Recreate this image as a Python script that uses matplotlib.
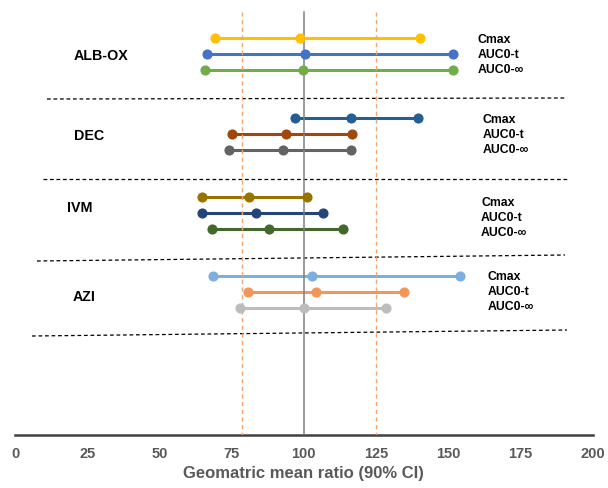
import matplotlib.pyplot as plt

plt.rcParams['font.family'] = ['Liberation Sans', 'DejaVu Sans']

# geometric mean ratio, 90% CI (lower, point, upper) per drug
drugs = ['ALB-OX', 'DEC', 'IVM', 'AZI']
params = ['Cmax', 'AUC0-t', 'AUC0-∞']
lower = [[69.3, 66.4, 65.8],
         [97.0, 75.2, 74.2],
         [64.6, 64.9, 68.1],
         [68.7, 80.8, 77.9]]
point = [[98.7, 100.4, 99.8],
         [116.2, 93.8, 92.9],
         [81.0, 83.3, 87.9],
         [102.9, 104.1, 100.2]]
upper = [[140.2, 151.8, 151.8],
         [139.6, 116.8, 116.3],
         [101.2, 106.8, 113.5],
         [154.1, 134.5, 128.5]]
colors = [['#FFC000', '#4472C4', '#70AD47'],
          ['#255E91', '#9E480E', '#636363'],
          ['#997300', '#264478', '#43682B'],
          ['#7CAFDD', '#F1975A', '#BDBDBD']]
ref_line = 100
limits = [78.5, 125]
xticks = [0, 25, 50, 75, 100, 125, 150, 175, 200]

# layout (y in pixel rows from the top of the figure)
group_top = [39.3, 119.3, 198.3, 277.3]
row_off = [0, 15.8, 32]
name_pos = [(74, 56), (74, 136), (67, 208), (73, 297)]
par_pos = [(478, 40), (483, 120), (481, 203), (488, 277)]
seps = [(47, 565, 100, 99), (43, 568, 180, 180), (37, 565, 262, 256), (32, 567, 337, 331)]

W, H = 608, 489
fig = plt.figure(figsize=(W / 100, H / 100), dpi=100)
ax = fig.add_axes([15 / W, (H - 435.7) / H, 577.7 / W, 435.7 / H])
ax.set_xlim(0, 200)
ax.set_ylim(435.7, 0)

px = 200 / 577.7  # data units per pixel in x

ax.plot([ref_line, ref_line], [13, 435.7], color='#808080', lw=1.1, zorder=3)
for l in limits:
    ax.plot([l, l], [13, 435.7], color='#F4A46E', lw=1.0, ls=(0, (3, 2.5)), zorder=3)

for g in range(len(drugs)):
    for r in range(3):
        y = group_top[g] + row_off[r]
        xs = [lower[g][r], point[g][r], upper[g][r]]
        ax.plot(xs, [y] * 3, color=colors[g][r], lw=2.2, zorder=2, solid_capstyle='butt')
        ax.plot(xs, [y] * 3, ls='none', marker='o', ms=6.3, color=colors[g][r], zorder=4)
    nx, ny = name_pos[g]
    ax.text((nx - 15) * px, ny, drugs[g], fontsize=10.3, fontweight='bold',
            ha='left', va='center', color='#000000')
    lx, ly = par_pos[g]
    for r in range(3):
        ax.text((lx - 15) * px, ly + r * 15.2, params[r], fontsize=8.8, fontweight='bold',
                ha='left', va='center', color='#000000')

for x0, x1, y0, y1 in seps:
    ax.plot([(x0 - 15) * px, (x1 - 15) * px], [y0, y1], color='#000000', lw=0.9,
            ls=(0, (3, 2.2)), zorder=1)

for s in ['top', 'right', 'left']:
    ax.spines[s].set_visible(False)
ax.spines['bottom'].set_color('#404040')
ax.spines['bottom'].set_linewidth(1.8)
ax.set_yticks([])
ax.set_xticks(xticks)
ax.tick_params(axis='x', length=0, pad=8, labelsize=10.5, labelcolor='#595959')
for t in ax.get_xticklabels():
    t.set_fontweight('bold')
ax.set_xlabel('Geomatric mean ratio (90% CI)', fontsize=12, fontweight='bold',
              color='#595959', labelpad=4)

fig.savefig('out.png', dpi=100)
